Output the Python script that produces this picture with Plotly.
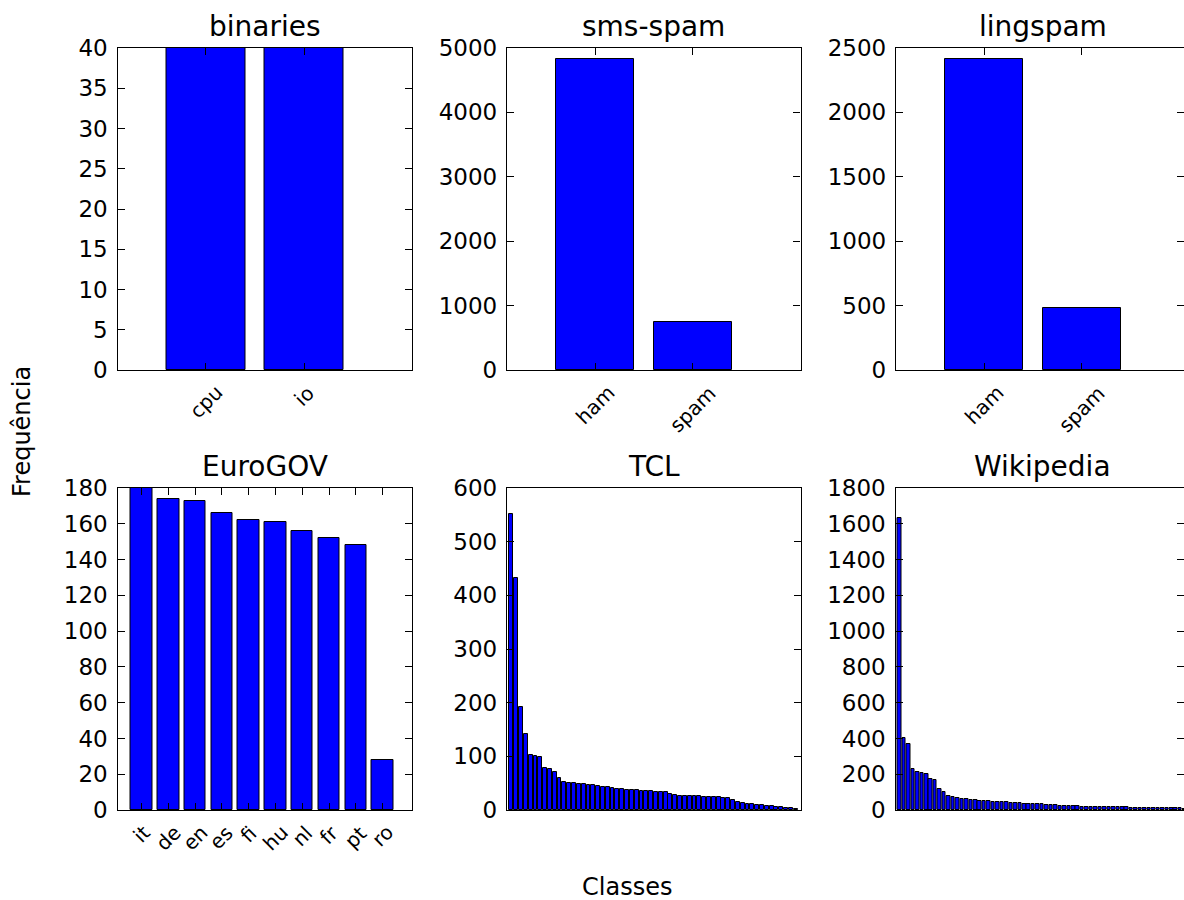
import numpy as np
import plotly.graph_objects as go

W, H = 1184, 900

# ---------------- data ----------------
binaries_cats = ["cpu", "io"]
binaries_vals = [40, 40]

sms_cats = ["ham", "spam"]
sms_vals = [4825, 747]

ling_cats = ["ham", "spam"]
ling_vals = [2412, 481]

euro_cats = ["it", "de", "en", "es", "fi", "hu", "nl", "fr", "pt", "ro"]
euro_vals = [180, 174, 173, 166, 162, 161, 156, 152, 148, 28]

tcl_vals = [551, 432, 192, 141, 102, 101, 99, 79, 76, 70,
            59, 52, 51, 50, 49, 48, 47, 46, 44, 43,
            42, 41, 40, 39, 38, 37, 37, 36, 35, 35,
            34, 34, 33, 30, 28, 27, 27, 26, 26, 26,
            25, 25, 24, 24, 23, 22, 18, 14, 13, 12,
            12, 10, 10, 8, 8, 6, 5, 4, 3, 2]

wiki_vals = [1634, 401, 367, 227, 214, 205, 201, 171, 166, 119,
             102, 78, 74, 69, 60, 59, 56, 54, 52, 50,
             49, 46, 44, 43, 42, 40, 38, 37, 36, 35,
             33, 32, 31, 30, 27, 26, 24, 23, 22, 21,
             20, 19, 19, 18, 18, 17, 16, 16, 16, 15,
             15, 15, 14, 14, 14, 13, 13, 12, 11, 11,
             10, 10, 9, 9, 8]

titles = ["binaries", "sms-spam", "lingspam", "EuroGOV", "TCL", "Wikipedia"]

# ---------------- layout helpers ----------------
FONT = "DejaVu Sans"
BLUE = "#0000ff"


def xdom(a, b):
    return [a / W, min(b / W, 1.0)]


def ydom(top, bottom):
    return [1 - bottom / H, 1 - top / H]


def clipped_range(lo, hi, a, b):
    # full axis spans pixels a..b for data lo..hi; clip at paper edge
    if b <= W:
        return [lo, hi]
    return [lo, lo + (hi - lo) * (W - a) / (b - a)]


# (x-left, x-right, y-top, y-bottom, yrange max, dtick)
panels = [
    (117.5, 412.0, 48, 370, 40, 5),
    (507.0, 800.5, 48, 370, 5000, 1000),
    (896.0, 1189.5, 48, 370, 2500, 500),
    (117.5, 412.0, 488, 810, 180, 20),
    (507.0, 801.0, 488, 810, 600, 100),
    (895.5, 1189.5, 488, 810, 1800, 200),
]

series = [
    (binaries_vals, binaries_cats),
    (sms_vals, sms_cats),
    (ling_vals, ling_cats),
    (euro_vals, euro_cats),
    (tcl_vals, None),
    (wiki_vals, None),
]

fig = go.Figure()
layout = dict(
    width=W, height=H,
    margin=dict(l=0, r=0, t=0, b=0, autoexpand=False),
    paper_bgcolor="white", plot_bgcolor="white",
    showlegend=False,
    font=dict(family=FONT, color="black"),
    bargap=0,
)

annotations = []
for i, ((xa, xb, yt, yb, ymax, dt), (vals, cats), title) in enumerate(
        zip(panels, series, titles)):
    k = "" if i == 0 else str(i + 1)
    n = len(vals)
    pos = np.arange(n) + 0.4
    fig.add_trace(go.Bar(
        x=pos, y=vals, width=0.8,
        marker=dict(color=BLUE, line=dict(color="black", width=1)),
        xaxis="x" + k, yaxis="y" + k, hoverinfo="x+y",
    ))
    xr = clipped_range(-0.5, n + 0.5, xa, xb)
    xaxis = dict(
        domain=xdom(xa, xb), range=xr, anchor="y" + k,
        showgrid=False, zeroline=False, showticklabels=False,
        showline=True, linecolor="black", linewidth=1.3, mirror="allticks",
    )
    if cats is not None:
        xaxis.update(
            tickmode="array", tickvals=list(pos),
            ticks="inside", ticklen=7, tickcolor="black", tickwidth=1,
        )
        # rotated category labels, centred under each tick (matplotlib style)
        for p, c in zip(pos, cats):
            annotations.append(dict(
                text=c, x=p, xref="x" + k, y=1 - (yb + 8) / H, yref="paper",
                xanchor="center", yanchor="top", textangle=-45,
                showarrow=False,
                font=dict(family=FONT, size=20, color="black"),
            ))
    else:
        xaxis.update(ticks="")
    yaxis = dict(
        domain=ydom(yt, yb), range=[0, ymax], anchor="x" + k,
        tickmode="linear", tick0=0, dtick=dt,
        ticks="inside", ticklen=7, tickcolor="black", tickwidth=1,
        showgrid=False, zeroline=False,
        showline=True, linecolor="black", linewidth=1.3, mirror="allticks",
        tickfont=dict(family=FONT, size=23, color="black"),
        ticklabelstandoff=4,
    )
    layout["xaxis" + k] = xaxis
    layout["yaxis" + k] = yaxis
    cx = ((xa + xb) / 2) / W
    annotations.append(dict(
        text=title, x=cx, y=1 - (yt - 3) / H, xref="paper", yref="paper",
        xanchor="center", yanchor="bottom", showarrow=False,
        font=dict(family=FONT, size=28, color="black"),
    ))

annotations.append(dict(
    text="Frequência", x=22 / W, y=1 - 432 / H, xref="paper", yref="paper",
    xanchor="center", yanchor="middle", textangle=-90, showarrow=False,
    font=dict(family=FONT, size=24, color="black"),
))
annotations.append(dict(
    text="Classes", x=627 / W, y=1 - 887 / H, xref="paper", yref="paper",
    xanchor="center", yanchor="middle", showarrow=False,
    font=dict(family=FONT, size=24, color="black"),
))
layout["annotations"] = annotations

fig.update_layout(**layout)
fig.write_html("out.html")
